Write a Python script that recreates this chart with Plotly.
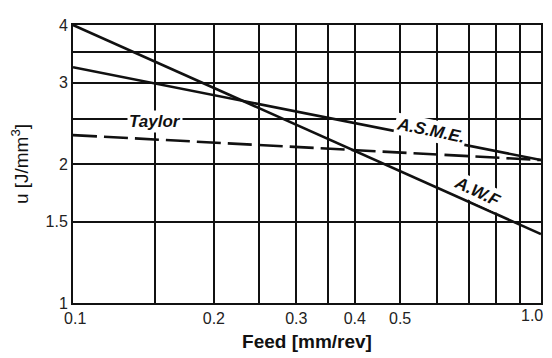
import numpy as np
import plotly.graph_objects as go

# Data (log-log chart of specific cutting energy vs feed)
feed = [0.1, 1.0]
asme = [3.24, 2.04]
awf = [4.0, 1.41]
taylor = [2.31, 2.04]

x_grid = [0.1, 0.15, 0.2, 0.25, 0.3, 0.35, 0.4, 0.5, 0.6, 0.7, 0.8, 0.9, 1.0]
x_labels = ["\u00a00.1", "", "0.2", "", "0.3", "", "0.4", "0.5", "", "", "", "", ""]
last_x_label = "1.0"
y_grid = [1, 1.5, 2, 2.5, 3, 3.5, 4]
y_labels = ["1", "1.5", "2", "", "3", "", "4"]

fig = go.Figure()
line_w = 2.6
fig.add_trace(go.Scatter(x=feed, y=awf, mode="lines",
                         line=dict(color="#111", width=line_w), showlegend=False))
fig.add_trace(go.Scatter(x=feed, y=asme, mode="lines",
                         line=dict(color="#111", width=line_w), showlegend=False))
fig.add_trace(go.Scatter(x=feed, y=taylor, mode="lines",
                         line=dict(color="#111", width=line_w, dash="24px,7px"),
                         showlegend=False))

lab_font = dict(family="Liberation Sans", size=17, color="#111")
annos = [
    ("<b><i>Taylor</i></b>", 0.150, 2.47, 0),
    ("<b><i>A.S.M.E.</i></b>", 0.58, 2.36, 11.6),
    ("<b><i>A.W.F</i></b>", 0.73, 1.74, 24.9),
]
for txt, ax_, ay_, ang in annos:
    fig.add_annotation(x=np.log10(ax_), y=np.log10(ay_), xref="x", yref="y",
                       text=txt, showarrow=False, textangle=ang,
                       bgcolor="white", borderpad=1, font=lab_font)

tick_font = dict(family="Liberation Sans", size=16, color="#222")
# last x tick label, nudged left so it stays inside the page
fig.add_annotation(x=np.log10(x_grid[-1]), y=0, xref="x", yref="paper",
                   text=last_x_label, showarrow=False, xanchor="center",
                   yanchor="top", xshift=-9, yshift=-2, font=tick_font)

fig.update_xaxes(type="log", range=[np.log10(0.1), np.log10(1.0)],
                 tickvals=x_grid, ticktext=x_labels,
                 showgrid=True, gridcolor="#111", gridwidth=2,
                 showline=True, linecolor="#111", linewidth=2, mirror=True,
                 ticks="", zeroline=False, tickfont=tick_font,
                 title=dict(text="<b>Feed [mm/rev]</b>",
                            font=dict(family="Liberation Sans", size=19, color="#111"),
                            standoff=8))
fig.update_yaxes(type="log", range=[np.log10(1), np.log10(4)],
                 tickvals=y_grid, ticktext=y_labels,
                 showgrid=True, gridcolor="#111", gridwidth=2,
                 showline=True, linecolor="#111", linewidth=2, mirror=True,
                 ticks="", zeroline=False, tickfont=tick_font,
                 title=dict(text="u [J/mm<sup>3</sup>]",
                            font=dict(family="Liberation Sans", size=19, color="#111"),
                            standoff=12))

# page body has an 8px margin, so the figure is sized to fit the window
fig.update_layout(width=544, height=350,
                  margin=dict(l=65, r=11, t=9, b=53),
                  paper_bgcolor="white", plot_bgcolor="white")

fig.write_html("out.html")
